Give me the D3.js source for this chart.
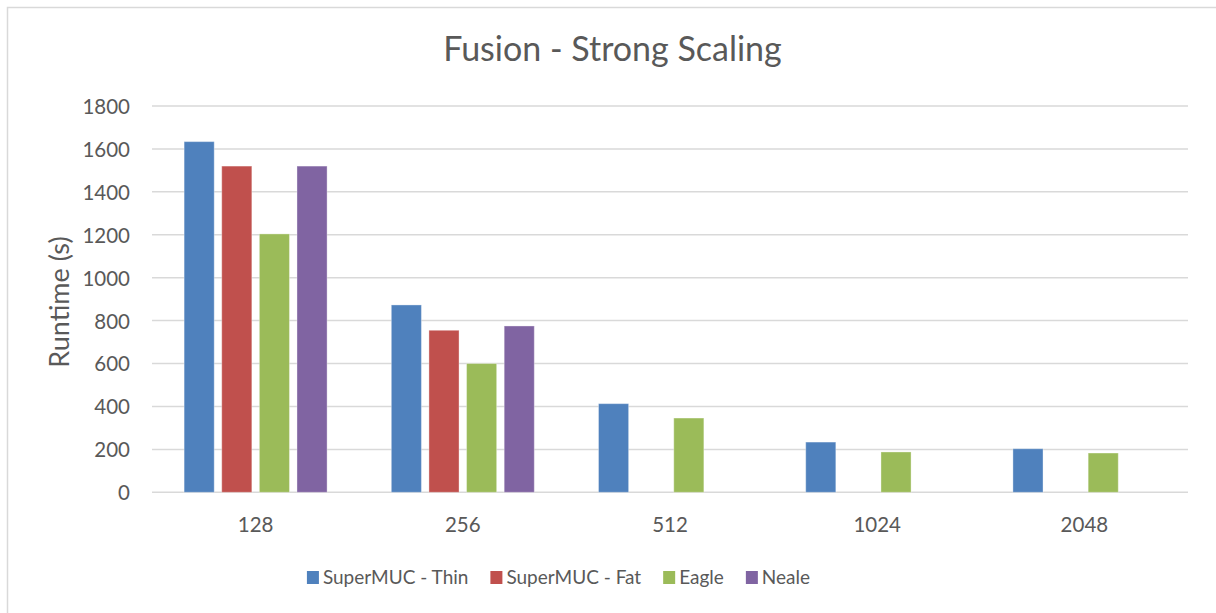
<!DOCTYPE html>
<html>
<head>
<meta charset="utf-8">
<script src="https://cdn.jsdelivr.net/npm/d3@7"></script>
<style>
  html, body { margin: 0; padding: 0; background: #fff; }
  svg { display: block; }
  text { font-family: Lato, "Open Sans", sans-serif; fill: #595959; }
</style>
</head>
<body>
<svg id="chart" width="1216" height="613"></svg>
<script>
// Node counts on the category axis
const nodeCounts = ["128", "256", "512", "1024", "2048"];

// Runtime in seconds per machine (null = no run at that size)
const superMucThin = [1634, 873, 413, 234, 203];
const superMucFat  = [1520, 755, null, null, null];
const eagle        = [1204, 600, 346, 188, 183];
const neale        = [1520, 775, null, null, null];

const seriesNames  = ["SuperMUC - Thin", "SuperMUC - Fat", "Eagle", "Neale"];
const seriesColors = ["#4F81BD", "#C0504D", "#9BBB59", "#8064A2"];
const yTicks       = [0, 200, 400, 600, 800, 1000, 1200, 1400, 1600, 1800];

const seriesValues = [superMucThin, superMucFat, eagle, neale];

const svg = d3.select("#chart");
const W = 1216, H = 613;
const plot = { left: 152, right: 1188, top: 106, bottom: 492.3 };

// chart frame
svg.append("rect")
  .attr("x", 7.5).attr("y", 7.5)
  .attr("width", W).attr("height", H)
  .attr("fill", "#fff").attr("stroke", "#d9d9d9").attr("stroke-width", 1.5);

const x0 = d3.scaleBand()
  .domain(nodeCounts)
  .range([plot.left, plot.right])
  .paddingInner(0.31)
  .paddingOuter(0.155);

const x1 = d3.scaleBand()
  .domain(seriesNames)
  .range([0, x0.bandwidth()])
  .paddingInner(0.2);

const y = d3.scaleLinear().domain([0, 1800]).range([plot.bottom, plot.top]);

// horizontal gridlines
svg.append("g")
  .selectAll("line")
  .data(yTicks)
  .join("line")
  .attr("x1", plot.left).attr("x2", plot.right)
  .attr("y1", d => y(d)).attr("y2", d => y(d))
  .attr("stroke", "#d9d9d9").attr("stroke-width", 1.5);

// y axis labels
const yAxis = d3.axisLeft(y).tickValues(yTicks).tickFormat(d3.format("d")).tickSize(0).tickPadding(0);
svg.append("g")
  .attr("transform", `translate(${130},0)`)
  .call(yAxis)
  .call(g => g.select(".domain").remove())
  .call(g => g.selectAll("text")
    .attr("font-family", "Lato, sans-serif")
    .attr("font-size", 20.5)
    .attr("dy", "0.36em")
    .attr("fill", "#595959"));

// x axis labels
const xAxis = d3.axisBottom(x0.copy().paddingInner(0).paddingOuter(0)).tickSize(0).tickPadding(0);
svg.append("g")
  .attr("transform", `translate(0,${532})`)
  .call(xAxis)
  .call(g => g.select(".domain").remove())
  .call(g => g.selectAll("text")
    .attr("font-family", "Lato, sans-serif")
    .attr("font-size", 20.5)
    .attr("dy", "0")
    .attr("fill", "#595959"));

// bars
const barData = [];
nodeCounts.forEach((c, i) => {
  seriesNames.forEach((s, j) => {
    const v = seriesValues[j][i];
    if (v != null) barData.push({ cat: c, series: s, value: v, color: seriesColors[j] });
  });
});

svg.append("g")
  .selectAll("rect")
  .data(barData)
  .join("rect")
  .attr("x", d => x0(d.cat) + x1(d.series))
  .attr("y", d => y(d.value))
  .attr("width", x1.bandwidth())
  .attr("height", d => y(0) - y(d.value))
  .attr("fill", d => d.color)
  .attr("stroke", "rgba(255,255,255,0.35)")
  .attr("stroke-width", 1);

// title
svg.append("text")
  .attr("x", 612.5).attr("y", 61)
  .attr("text-anchor", "middle")
  .attr("font-size", 34)
  .text("Fusion - Strong Scaling");

// y axis title
svg.append("text")
  .attr("transform", `translate(69,${302}) rotate(-90)`)
  .attr("text-anchor", "middle")
  .attr("font-size", 27)
  .text("Runtime (s)");

// legend
const legend = svg.append("g");
const items = legend.selectAll("g")
  .data(seriesNames)
  .join("g");
items.append("rect")
  .attr("width", 12).attr("height", 13)
  .attr("y", -13)
  .attr("fill", (d, i) => seriesColors[i]);
items.append("text")
  .attr("x", 16)
  .attr("font-size", 19)
  .text(d => d);
let cursor = 0;
items.each(function () {
  const g = d3.select(this);
  g.attr("transform", `translate(${cursor},0)`);
  const w = 16 + g.select("text").node().getComputedTextLength();
  cursor += w + 22;
});
const legendWidth = cursor - 22;
legend.attr("transform", `translate(${558.5 - legendWidth / 2},${584})`);
</script>
</body>
</html>
